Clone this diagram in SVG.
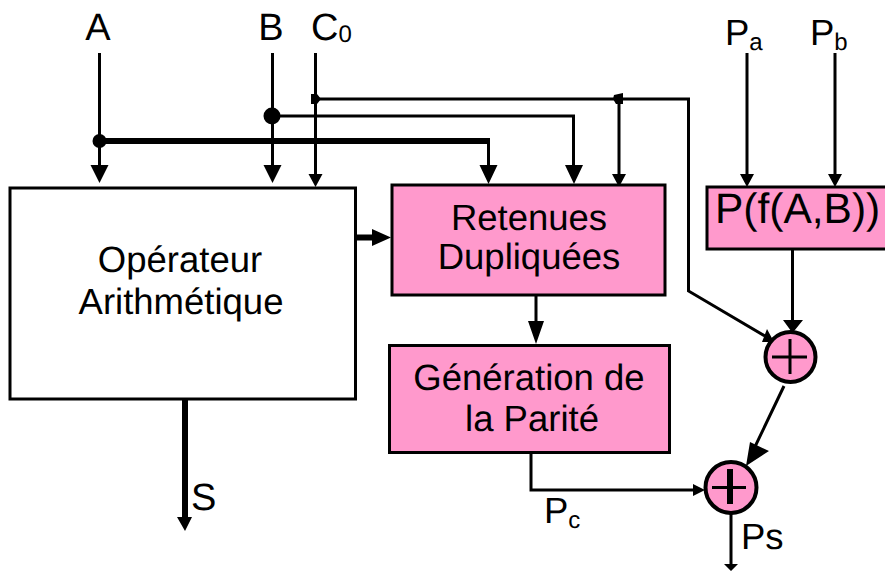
<svg xmlns="http://www.w3.org/2000/svg" width="885" height="571" viewBox="0 0 885 571">
<style>
text{font-family:"Liberation Sans",Arial,sans-serif;font-size:36.500px;fill:#000;text-rendering:geometricPrecision}
.m{text-anchor:middle}
.s{font-size:24px}
.b{fill:#ff99cc;stroke:#000;stroke-width:3}
.w{fill:#fff;stroke:#000;stroke-width:3}
.c{fill:none;stroke:#000;stroke-width:3}
.t{fill:none;stroke:#000;stroke-width:6}
.h{fill:#000}
</style>
<rect width="885" height="571" fill="#fff"/>
<g id="connectors">
<path class="c" d="M99.500 53V170M272.500 53V170M315.500 53V178M747 53V178M835 53V178"/>
<path class="c" d="M315.500 99H688.500V291L765 336M272.500 116H573.500V170M619 99V178"/>
<path d="M99 141H490" fill="none" stroke="#000" stroke-width="6"/>
<path class="c" d="M488.500 141V170"/>
<path class="t" d="M355 237.500H376M185 400V520"/>
<path class="c" d="M536 296V325M792.500 249V325M784 386L752 453M531 453V490H696M731 513V566"/>
<path class="h" d="M90.500 165H108.500L99.500 183ZM263.500 165H281.500L272.500 183ZM308.500 174H322.500L315.500 187ZM479.500 165H497.500L488.500 184ZM565 165H583L574 184ZM612 174H626L619 187ZM740 174H754L747 187ZM828 174H842L835 187ZM372 229V246L391 237.500ZM528 321H544L536 344ZM783 320H803L792.500 333ZM177 517H192L185 531ZM724 564H738L731 571ZM693 484V496L705 490ZM767 329L762 342L774 342ZM746 466L769 451L750 442Z"/>
<circle class="h" cx="99.500" cy="141" r="7"/>
<circle class="h" cx="272" cy="116" r="8.500"/>
<path class="h" d="M311 94H317L321 99L317 104H311Z"/>
<path class="h" d="M614 95L623 93V104H616L613 99Z"/>
</g>
<g id="n-operateur"><rect class="w" x="10" y="188" width="345.500" height="211"/><text class="m" x="180" y="272">Opérateur</text><text class="m" x="181" y="314">Arithmétique</text></g>
<g id="n-retenues"><rect class="b" x="392" y="185" width="273" height="110"/><text class="m" x="529" y="230">Retenues</text><text class="m" x="529" y="269">Dupliquées</text></g>
<g id="n-generation"><rect class="b" x="389.500" y="345.500" width="280" height="107"/><text class="m" x="529" y="390">Génération de</text><text class="m" x="532" y="431">la Parité</text></g>
<g id="n-pf"><rect class="b" x="707" y="187" width="181" height="62"/><text x="715" y="223" style="font-size:42.500px">P(f(A,B))</text></g>
<g id="n-xor1"><circle class="b" cx="790.500" cy="357" r="25" style="stroke-width:4"/><path class="c" d="M772 357H807M790 339V374"/></g>
<g id="n-xor2"><circle class="b" cx="731" cy="487.500" r="25.500" style="stroke-width:4"/><path d="M712 487.500H746" stroke="#000" stroke-width="3"/><path d="M730 469V504" stroke="#000" stroke-width="6"/></g>
<g id="labels">
<text class="m" x="98" y="40" style="font-size:38px">A</text>
<text class="m" x="271" y="40" style="font-size:38px">B</text>
<text x="311" y="40" style="font-size:38px">C<tspan class="s" dy="2">0</tspan></text>
<text x="725" y="45">P<tspan class="s" dy="5">a</tspan></text>
<text x="810" y="45">P<tspan class="s" dy="5">b</tspan></text>
<text x="191" y="510" style="font-size:38px">S</text>
<text x="544" y="523">P<tspan class="s" dy="5">c</tspan></text>
<text x="741" y="549">Ps</text>
</g>
</svg>
